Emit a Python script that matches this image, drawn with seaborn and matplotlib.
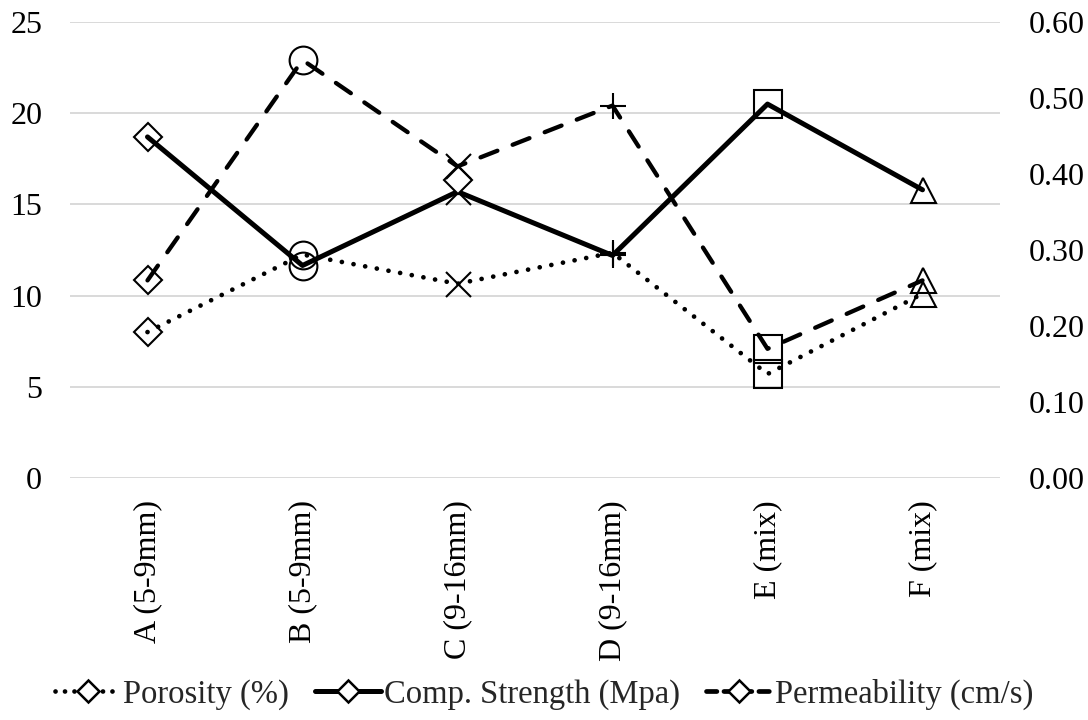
import numpy as np
import pandas as pd
import matplotlib
matplotlib.use("Agg")
import matplotlib.pyplot as plt
from matplotlib.lines import Line2D
import seaborn as sns

# ---- data ----
categories = ["A (5-9mm)", "B (5-9mm)", "C (9-16mm)", "D (9-16mm)", "E (mix)", "F (mix)"]
porosity = [8.0, 12.25, 10.65, 12.35, 5.7, 10.1]
comp_strength = [18.7, 11.65, 15.7, 12.2, 20.5, 15.8]
permeability = [0.26, 0.55, 0.41, 0.49, 0.17, 0.26]
point_markers = ["D", "o", "x", "+", "s", "^"]
stray_diamond = 16.35  # extra diamond marker drawn at category C

left_ticks = [0, 5, 10, 15, 20, 25]
right_ticks = [0.0, 0.1, 0.2, 0.3, 0.4, 0.5, 0.6]
series_labels = ["Porosity (%)", "Comp. Strength (Mpa)", "Permeability (cm/s)"]

sns.set_theme(style="white")
plt.rcParams["font.family"] = ["Liberation Serif", "DejaVu Serif"]

fig = plt.figure(figsize=(10.88, 7.2), dpi=100)
ax = fig.add_axes([70 / 1088, 1 - 478 / 720, 930 / 1088, 456 / 720])
ax2 = ax.twinx()

x = np.arange(len(categories))
df = pd.DataFrame({"x": x, "Porosity": porosity, "Comp": comp_strength, "Perm": permeability})

dot_style = (0, (0.01, 2.5))
dash_style = (0, (4.2, 3.8))

sns.lineplot(data=df, x="x", y="Porosity", ax=ax, color="black", lw=3.4,
             linestyle=dot_style, dash_capstyle="round", legend=False, zorder=3)
sns.lineplot(data=df, x="x", y="Comp", ax=ax, color="black", lw=3.6, legend=False, zorder=4)
sns.lineplot(data=df, x="x", y="Perm", ax=ax2, color="black", lw=3.1,
             linestyle=dash_style, dash_capstyle="round", legend=False, zorder=3)

msizes = {"D": 14, "o": 20, "x": 18, "+": 19, "s": 19.5, "^": 18}
def draw_markers(axis, values):
    for xi, v, m in zip(x, values, point_markers):
        axis.plot([xi], [v], marker=m, ms=msizes[m], mfc="none", mec="black",
                  mew=1.5, linestyle="none", zorder=5)

draw_markers(ax, porosity)
draw_markers(ax, comp_strength)
draw_markers(ax2, permeability)
ax.plot([2], [stray_diamond], marker="D", ms=14, mfc="white", mec="black", mew=1.5,
        linestyle="none", zorder=6)

ax.set_xlim(-0.5, len(categories) - 0.5)
ax.set_ylim(0, 25)
ax2.set_ylim(0, 0.6)
ax.set_yticks(left_ticks)
ax.set_yticklabels([str(t) for t in left_ticks])
ax2.set_yticks(right_ticks)
ax2.set_yticklabels([f"{t:.2f}" for t in right_ticks])
ax.set_xticks(x)
ax.set_xticklabels(categories, rotation=90, va="top", ha="center")
ax.set_xlabel("")
ax.set_ylabel("")
ax2.set_ylabel("")

ax.grid(axis="y", color="#d9d9d9", lw=1.4)
ax.grid(axis="x", visible=False)
for a in (ax, ax2):
    for s in a.spines.values():
        s.set_visible(False)
    a.tick_params(length=0, labelsize=23, colors="black")
ax.tick_params(axis="y", pad=20)
ax2.tick_params(axis="y", pad=21)
ax.tick_params(axis="x", pad=16)

handles = [
    Line2D([], [], color="black", lw=3.4, linestyle=(0, (0.01, 2.0)), dash_capstyle="round",
           marker="D", ms=11, mfc="white", mec="black", mew=1.8),
    Line2D([], [], color="black", lw=3.6, marker="D", ms=11, mfc="white", mec="black", mew=1.8),
    Line2D([], [], color="black", lw=3.4, linestyle=(0, (2.2, 1.5)), dash_capstyle="round",
           marker="D", ms=11, mfc="white", mec="black", mew=1.8),
]
fig.legend(handles, series_labels, loc="center", bbox_to_anchor=(0.5, 1 - 694 / 720), ncol=3,
           frameon=False, fontsize=23.5, handlelength=2.0, handletextpad=0.1, columnspacing=0.8)

fig.savefig("out.png", dpi=100, facecolor="white")
